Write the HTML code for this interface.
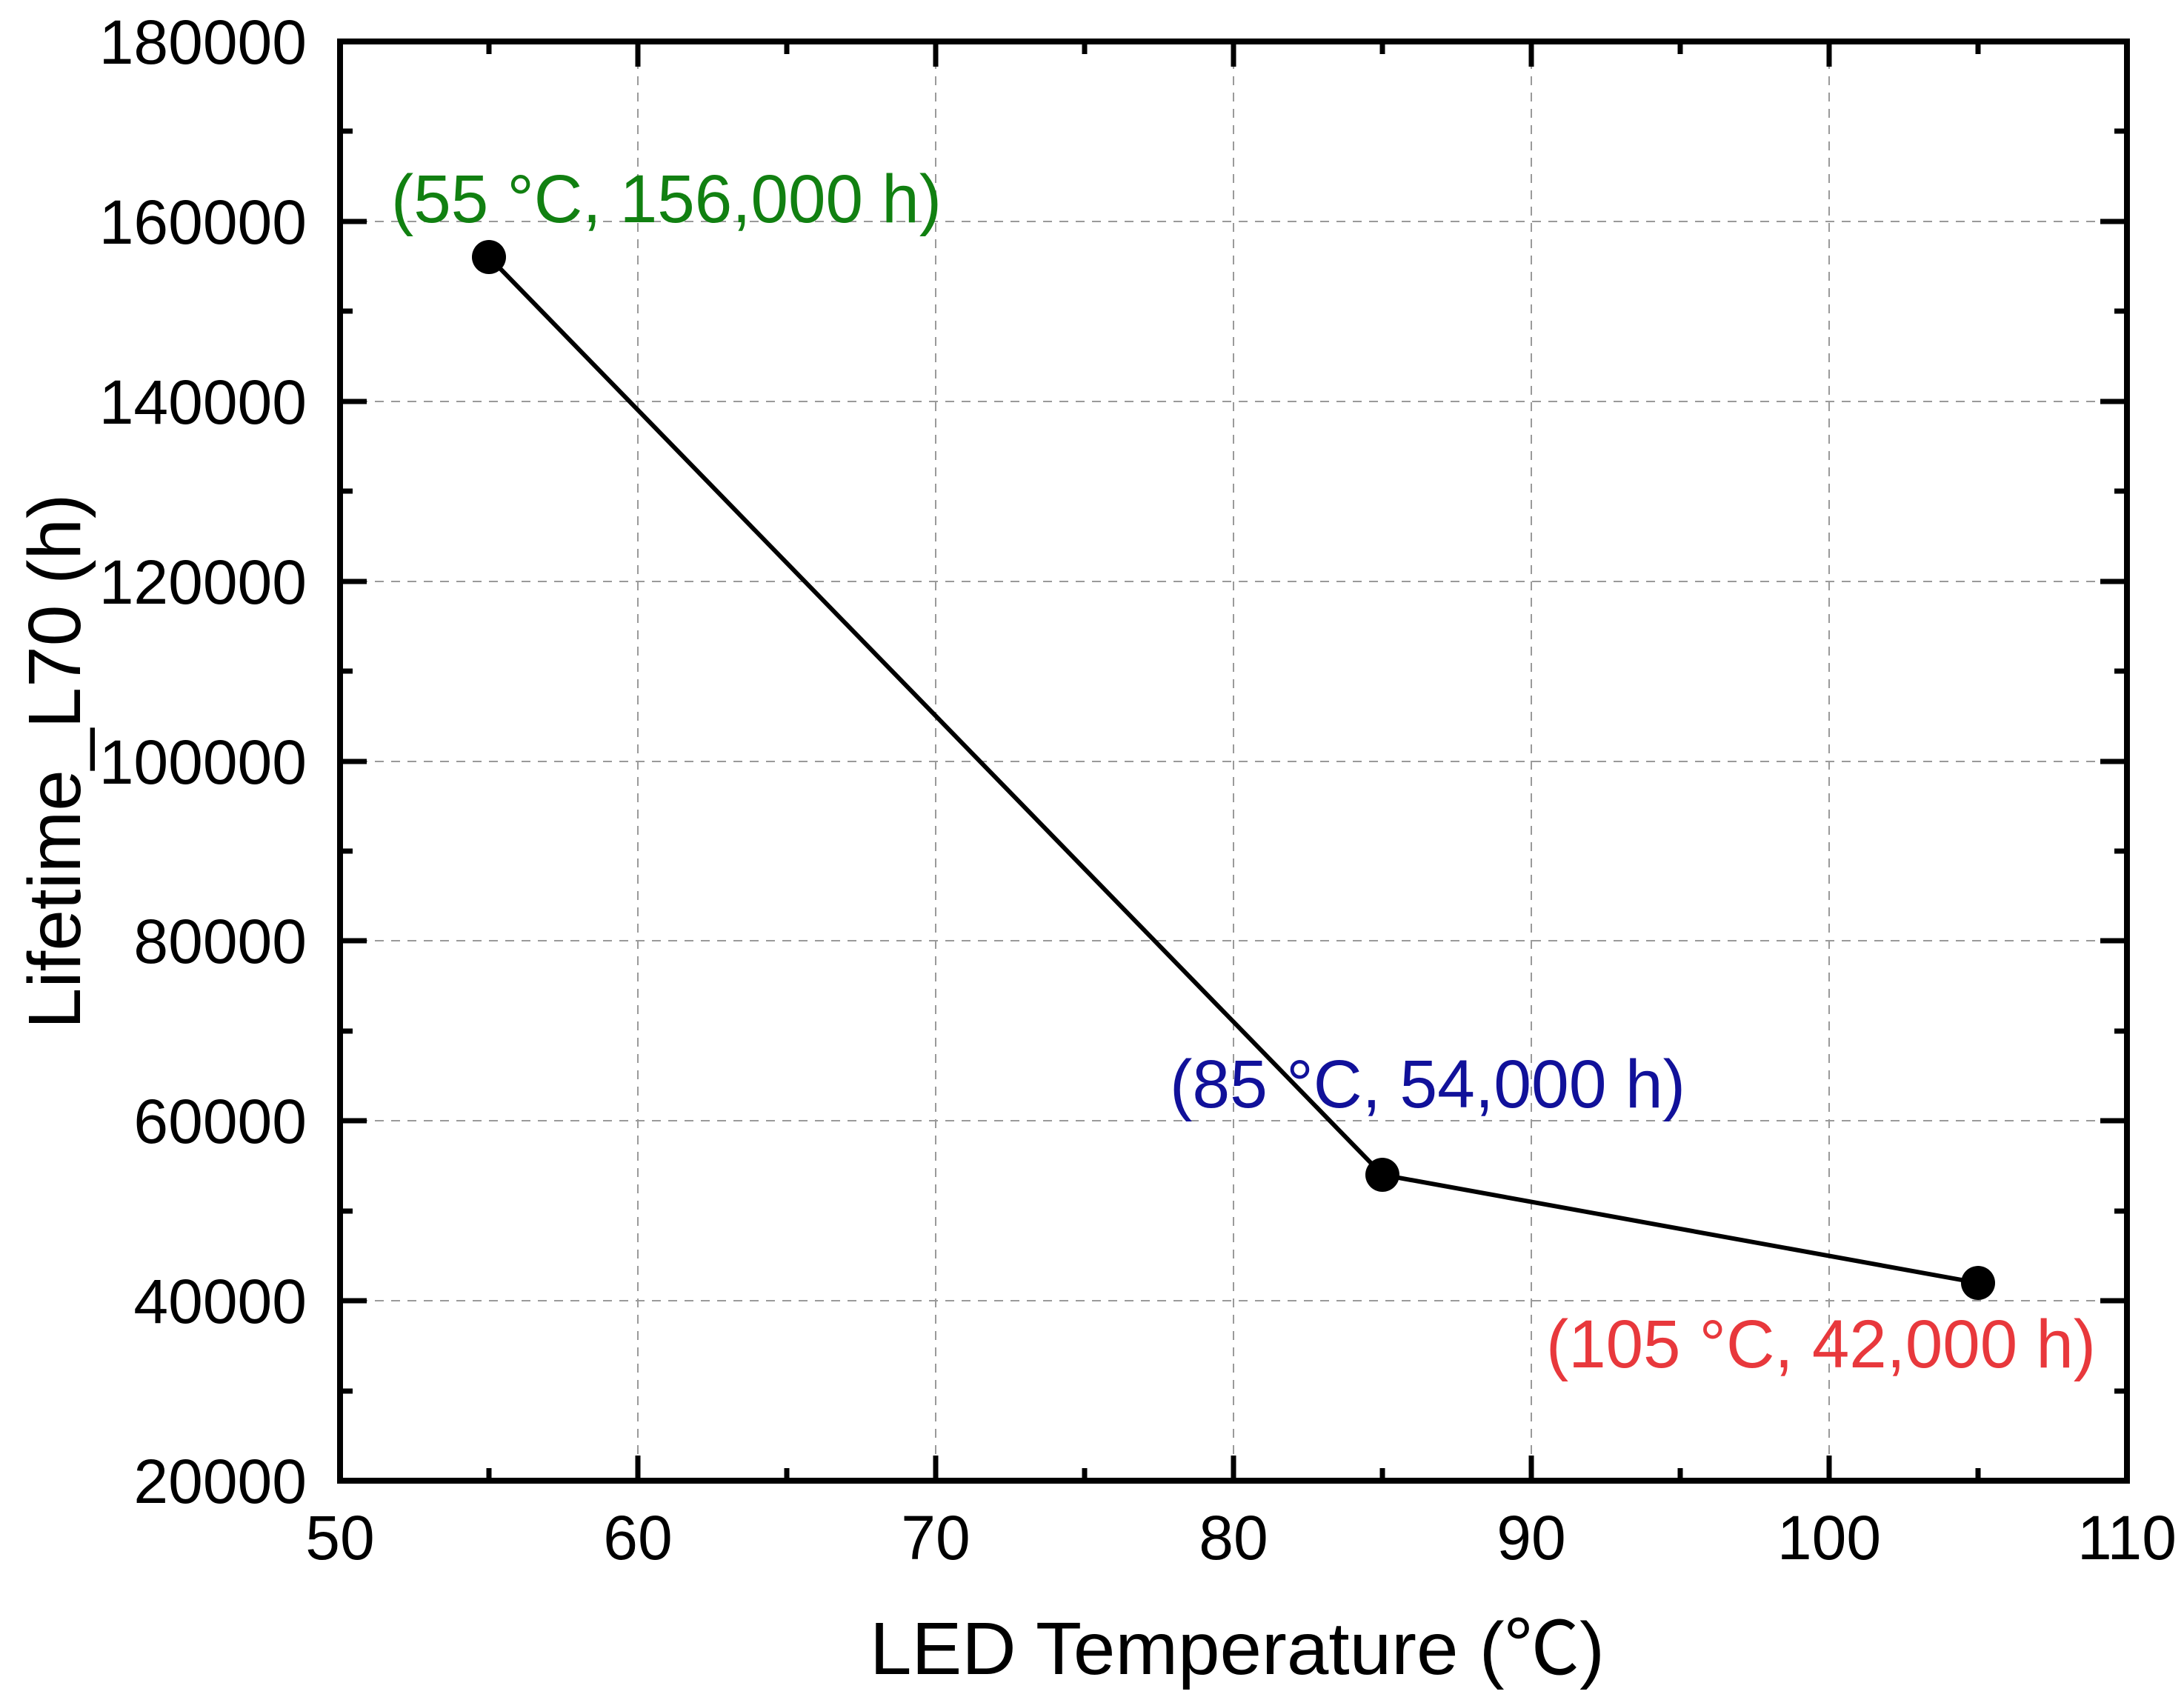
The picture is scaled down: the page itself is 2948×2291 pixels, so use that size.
<!DOCTYPE html>
<html><head><meta charset="utf-8"><style>
html,body{margin:0;padding:0;background:#fff}
svg{display:block}
text{font-family:"Liberation Sans","Noto Sans CJK SC",sans-serif}
</style></head><body>
<svg width="2948" height="2291" viewBox="0 0 2948 2291" xmlns="http://www.w3.org/2000/svg">
<rect width="2948" height="2291" fill="#fff"/>
<g stroke="#9a9a9a" stroke-width="2" stroke-dasharray="12,10">
<line x1="861" y1="59" x2="861" y2="1996"/>
<line x1="1263" y1="59" x2="1263" y2="1996"/>
<line x1="1665" y1="59" x2="1665" y2="1996"/>
<line x1="2067" y1="59" x2="2067" y2="1996"/>
<line x1="2469" y1="59" x2="2469" y2="1996"/>
<line x1="462" y1="299" x2="2868" y2="299"/>
<line x1="462" y1="542" x2="2868" y2="542"/>
<line x1="462" y1="785" x2="2868" y2="785"/>
<line x1="462" y1="1028" x2="2868" y2="1028"/>
<line x1="462" y1="1270" x2="2868" y2="1270"/>
<line x1="462" y1="1513" x2="2868" y2="1513"/>
<line x1="462" y1="1756" x2="2868" y2="1756"/>
</g>
<g stroke="#000" stroke-width="7">
<path d="M861 1999v-34M1263 1999v-34M1665 1999v-34M2067 1999v-34M2469 1999v-34"/>
<path d="M660 1999v-17M1062 1999v-17M1464 1999v-17M1866 1999v-17M2268 1999v-17M2670 1999v-17"/>
<path d="M861 56v34M1263 56v34M1665 56v34M2067 56v34M2469 56v34"/>
<path d="M660 56v17M1062 56v17M1464 56v17M1866 56v17M2268 56v17M2670 56v17"/>
<path d="M459 299h36M459 542h36M459 785h36M459 1028h36M459 1270h36M459 1513h36M459 1756h36"/>
<path d="M459 177h17M459 420h17M459 663h17M459 906h17M459 1149h17M459 1392h17M459 1635h17M459 1878h17"/>
<path d="M2871 299h-36M2871 542h-36M2871 785h-36M2871 1028h-36M2871 1270h-36M2871 1513h-36M2871 1756h-36"/>
<path d="M2871 177h-17M2871 420h-17M2871 663h-17M2871 906h-17M2871 1149h-17M2871 1392h-17M2871 1635h-17M2871 1878h-17"/>
</g>
<rect x="459" y="56" width="2412" height="1943" fill="none" stroke="#000" stroke-width="8"/>
<polyline points="660,347 1866,1586 2670,1732" fill="none" stroke="#000" stroke-width="6"/>
<circle cx="660" cy="347" r="23" fill="#000"/>
<circle cx="1866" cy="1586" r="23" fill="#000"/>
<circle cx="2670" cy="1732" r="23" fill="#000"/>
<text x="528" y="300" font-size="92" fill="#118011" textLength="743" lengthAdjust="spacingAndGlyphs">(55 °C, 156,000 h)</text>
<text x="1579" y="1495" font-size="92" fill="#11119a" textLength="696" lengthAdjust="spacingAndGlyphs">(85 °C, 54,000 h)</text>
<text x="2087" y="1846" font-size="92" fill="#e8383c" textLength="742" lengthAdjust="spacingAndGlyphs">(105 °C, 42,000 h)</text>
<g font-size="84" text-anchor="middle" fill="#000">
<text x="459" y="2105">50</text>
<text x="861" y="2105">60</text>
<text x="1263" y="2105">70</text>
<text x="1665" y="2105">80</text>
<text x="2067" y="2105">90</text>
<text x="2469" y="2105">100</text>
<text x="2871" y="2105">110</text>
</g>
<g font-size="84" text-anchor="end" fill="#000">
<text x="414" y="86">180000</text>
<text x="414" y="329">160000</text>
<text x="414" y="572">140000</text>
<text x="414" y="815">120000</text>
<text x="414" y="1058">100000</text>
<text x="414" y="1300">80000</text>
<text x="414" y="1543">60000</text>
<text x="414" y="1786">40000</text>
<text x="414" y="2029">20000</text>
</g>
<text x="1174" y="2260" font-size="100" textLength="992" lengthAdjust="spacingAndGlyphs">LED Temperature (℃)</text>
<text transform="translate(108,1028) rotate(-90)" font-size="100" text-anchor="middle">Lifetime_L70 (h)</text>
</svg>
</body></html>
